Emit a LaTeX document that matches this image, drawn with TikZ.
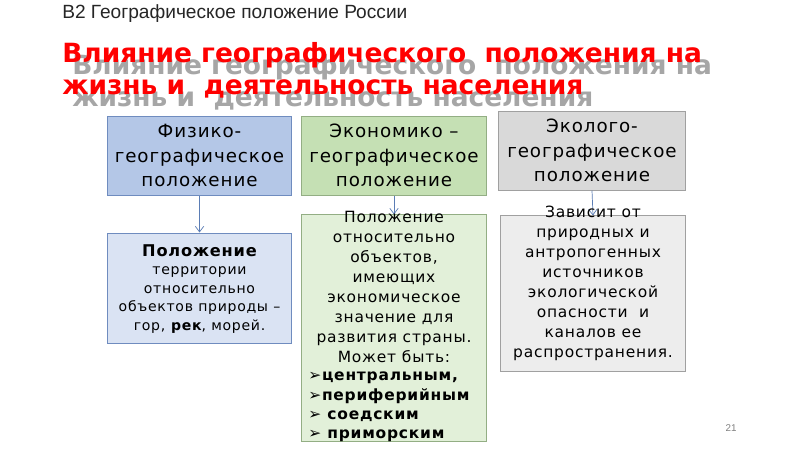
\documentclass[tikz,border=0pt]{standalone}
\usepackage{fontspec}
\setmainfont{DejaVu Sans}
\newfontfamily\headfont{Liberation Sans}
\newfontfamily\boxfont[LetterSpace=5]{DejaVu Sans}
\usetikzlibrary{arrows.meta}

\definecolor{titlered}{HTML}{FF0000}
\definecolor{shadowgray}{HTML}{A6A6A6}
\definecolor{fizfill}{HTML}{B4C7E7}
\definecolor{fizlight}{HTML}{DAE3F3}
\definecolor{fizline}{HTML}{6F8CBF}
\definecolor{econfill}{HTML}{C5E0B4}
\definecolor{econlight}{HTML}{E2F0D9}
\definecolor{econline}{HTML}{93AE84}
\definecolor{ecofill}{HTML}{D9D9D9}
\definecolor{ecolight}{HTML}{EDEDED}
\definecolor{ecoline}{HTML}{A0A0A0}
\definecolor{arrowblue}{HTML}{5B7DB5}

\tikzstyle{box}=[rectangle, draw, inner sep=0pt, align=center, line width=0.7pt]
\tikzstyle{topbox}=[box, minimum height=1.975cm,
                    font=\boxfont\fontsize{13}{17.5}\selectfont]
\tikzstyle{lowtext}=[inner sep=0pt, font=\boxfont\fontsize{11}{14.2}\selectfont]
\tikzstyle{heading}=[anchor=base west, inner sep=0pt, font=\fontsize{18.8}{22}\bfseries]
\tikzstyle{link}=[draw=arrowblue, line width=0.5pt,
                  -{Straight Barb[length=4pt, width=6pt]}]

\begin{document}
\begin{tikzpicture}[x=0.025cm, y=-0.025cm]
  \useasboundingbox[fill=white] (0,0) rectangle (800,449);

  \node[anchor=base west, inner sep=0pt, text=black!85,
        font=\headfont\fontsize{13.6}{15}\selectfont] (head)
    at (62,18) {В2 Географическое положение России};

  \node[heading, shadowgray] (shadow1) at (72,74) {Влияние географического\ \ положения на};
  \node[heading, shadowgray] (shadow2) at (72,106) {жизнь и\ \ деятельность населения};
  \node[heading, titlered] (title1) at (62,62) {Влияние географического\ \ положения на};
  \node[heading, titlered] (title2) at (62,94) {жизнь и\ \ деятельность населения};

  \node[topbox, fill=fizfill, draw=fizline, minimum width=4.575cm] (fiz)
    at (199.5,155.5) {Физико-\\географическое\\положение};
  \node[topbox, fill=econfill, draw=econline, minimum width=4.6cm] (econ)
    at (394,155.5) {Экономико –\\географическое\\положение};
  \node[topbox, fill=ecofill, draw=ecoline, minimum width=4.65cm] (eco)
    at (592,150.5) {Эколого-\\географическое\\положение};

  \node[box, fill=fizlight, draw=fizline, minimum width=4.575cm,
        minimum height=2.75cm] (fizlow) at (199.5,288) {};
  \node[box, fill=econlight, draw=econline, minimum width=4.6cm,
        minimum height=5.65cm] (econlow) at (394,328) {};
  \node[box, fill=ecolight, draw=ecoline, minimum width=4.6cm,
        minimum height=3.875cm] (ecolow) at (593,293.5) {};

  \draw[link] (fiz.south) -- (fizlow.north);
  \draw[link] (econ.south) -- (econlow.north);
  \draw[link] (eco.south) -- (ecolow.north);

  \node[inner sep=0pt, align=center, anchor=north,
        font=\boxfont\fontsize{10}{13.2}\selectfont] (fiztext) at (199.5,244)
    {{\fontsize{11.5}{16}\bfseries Положение}\\территории\\относительно\\
     объектов природы –\\гор, \textbf{рек}, морей.};
  \node[lowtext, align=center, anchor=north] (econtext) at (394,211)
    {Положение\\относительно\\объектов,\\имеющих\\экономическое\\
     значение для\\развития страны.\\Может быть:};
  \node[lowtext, align=left, anchor=north west, font=\boxfont\bfseries\fontsize{11}{13.6}\selectfont]
    (econlist) at (308,372)
    {➢центральным,\\➢периферийным\\➢ соедским\\➢ приморским};
  \node[lowtext, align=center, anchor=north] (ecotext) at (593,206)
    {Зависит от\\природных и\\антропогенных\\источников\\экологической\\
     опасности\ \ и\\каналов ее\\распространения.};

  \node[anchor=base, text=gray, font=\headfont\fontsize{7}{8}\selectfont] (page)
    at (731,431) {21};
\end{tikzpicture}
\end{document}
